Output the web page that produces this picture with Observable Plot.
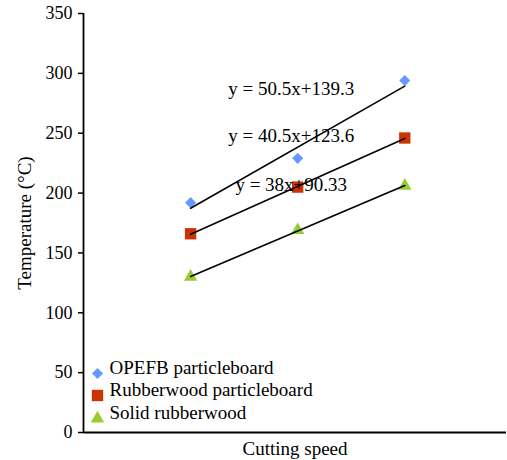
<!DOCTYPE html>
<html><head><meta charset="utf-8">
<script src="https://cdn.jsdelivr.net/npm/d3@7"></script>
<script src="https://cdn.jsdelivr.net/npm/@observablehq/plot@0.6"></script>
<style>body{margin:0;background:#fff}</style>
</head><body><div id="chart"></div>
<script>
const speeds = [1, 2, 3];
const seriesNames = ["OPEFB particleboard", "Rubberwood particleboard", "Solid rubberwood"];
const opefb = [192, 229, 294];
const rubberwoodPB = [166, 205, 246];
const solidRubberwood = [130, 169, 206];
const seriesColors = ["#6699FF", "#CC3300", "#99CC33"];
const seriesSymbols = ["diamond2", "square", "triangle"];
const seriesR = [5, 6.4, 5];
const equations = ["y = 50.5x+139.3", "y = 40.5x+123.6", "y = 38x+90.33"];
const equationY = [287, 247.5, 206.5];
const equationX = 1.94;
const yTicks = [0, 50, 100, 150, 200, 250, 300, 350];
const xLabel = "Cutting speed";
const yLabel = "Temperature (°C)";

const values = [opefb, rubberwoodPB, solidRubberwood];
const rows = [];
values.forEach((vals, i) => vals.forEach((v, j) => rows.push({series: seriesNames[i], speed: speeds[j], temp: v})));

const font = "'Liberation Serif', 'Times New Roman', serif";
const legendDy = [-59, -37, -14];

const marks = [
  Plot.axisY({ticks: yTicks, tickSize: 5, tickPadding: 6, fontSize: 18, label: null, strokeWidth: 1.5}),
  Plot.ruleX([0], {stroke: "black", strokeWidth: 1.8}),
  Plot.ruleY([0], {stroke: "black", strokeWidth: 1.8}),
  Plot.text([yLabel], {frameAnchor: "left", dx: -59, rotate: -90, fontSize: 19, textAnchor: "middle"}),
  Plot.text([xLabel], {frameAnchor: "bottom", dy: 16, fontSize: 19, lineAnchor: "middle"}),
];
seriesNames.forEach((name, i) => {
  marks.push(Plot.dot(rows.filter(d => d.series === name), {x: "speed", y: "temp", symbol: () => seriesSymbols[i], fill: seriesColors[i], r: seriesR[i], stroke: "none"}));
});
marks.push(Plot.linearRegressionY(rows, {x: "speed", y: "temp", z: "series", stroke: "black", strokeWidth: 1.6, ci: 0}));
marks.push(Plot.text(equations, {x: () => equationX, y: (d, i) => equationY[i], text: d => d, fontSize: 19, textAnchor: "middle"}));
seriesNames.forEach((name, i) => {
  marks.push(Plot.dot([name], {frameAnchor: "bottom-left", dx: 14, dy: legendDy[i], symbol: () => seriesSymbols[i], fill: seriesColors[i], r: seriesR[i], stroke: "none"}));
  marks.push(Plot.text([name], {frameAnchor: "bottom-left", dx: 26, dy: legendDy[i], textAnchor: "start", fontSize: 19}));
});

const chart = Plot.plot({
  width: 507,
  height: 460,
  marginLeft: 83,
  marginRight: 1,
  marginTop: 13,
  marginBottom: 28,
  style: {fontFamily: font, fontSize: "18px", color: "black", background: "white"},
  x: {domain: [0, 3.95], axis: null},
  y: {domain: [0, 350], axis: null},
  symbol: {type: "identity"},
  marks
});
document.getElementById("chart").appendChild(chart);
</script>
</body></html>
